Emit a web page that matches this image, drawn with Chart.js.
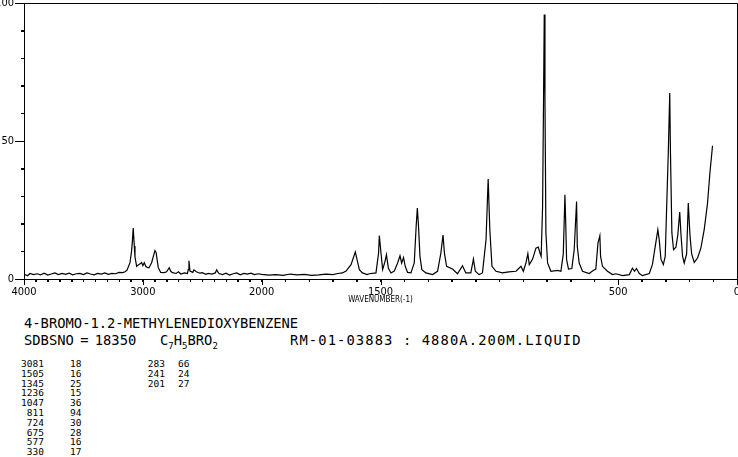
<!DOCTYPE html>
<html>
<head>
<meta charset="utf-8">
<script src="https://cdn.jsdelivr.net/npm/chart.js@4.4.1/dist/chart.umd.min.js"></script>
<style>
    html, body { margin: 0; padding: 0; background: #fff; }
    #page { position: relative; width: 738px; height: 457px; overflow: hidden; font-family: "DejaVu Sans Mono", monospace; color: #000; }
    #spectrum { position: absolute; left: 0; top: 0; }
    .txt { position: absolute; white-space: pre; font-size: 13.8px; line-height: 14px; }
    .tbl { position: absolute; font-size: 9.5px; line-height: 9.8px; white-space: pre; }
    .tbl div { height: 9.8px; }
    .r { text-align: right; }
</style>
</head>
<body>
<div id="page">
    <canvas id="spectrum" width="738" height="310"></canvas>

    <div class="txt" style="left:24px; top:316px;">4-BROMO-1.2-METHYLENEDIOXYBENZENE</div>
    <div class="txt" style="left:24px; top:333px; word-spacing:-2px;">SDBSNO = 18350</div>
    <div class="txt" style="left:160px; top:333px;">C<sub style="font-size:9px">7</sub>H<sub style="font-size:9px">5</sub>BRO<sub style="font-size:9px">2</sub></div>
    <div class="txt" style="left:290px; top:333px; letter-spacing:1.1px;">RM-01-03883 : 4880A.200M.LIQUID</div>

    <div class="tbl r" id="peakWn1" style="left:0px; top:359px; width:44px;"></div>
    <div class="tbl" id="peakInt1" style="left:70px; top:359px;"></div>
    <div class="tbl r" id="peakWn2" style="left:120px; top:359px; width:45px;"></div>
    <div class="tbl" id="peakInt2" style="left:178px; top:359px;"></div>
</div>

<script>
// ===============================
// Data
// ===============================
const wavenumbers = [
    4000, 3970, 3950, 3920, 3890, 3860, 3830, 3800, 3770, 3740, 3710, 3680, 3650, 3620, 3590, 3560,
    3530, 3500, 3470, 3440, 3410, 3380, 3350, 3320, 3290, 3260, 3230, 3200, 3170, 3150,
    3133, 3108, 3095, 3089, 3081, 3072, 3066, 3052, 3035, 3020, 3010, 3000, 2988, 2975, 2960, 2948,
    2926, 2910, 2898, 2888, 2880, 2870, 2850, 2820, 2800, 2778, 2765, 2750, 2720, 2700, 2680, 2650,
    2625, 2618, 2612, 2603, 2580, 2570, 2550, 2520, 2500, 2470, 2450, 2420, 2390, 2379, 2360, 2330,
    2300, 2270, 2240, 2210, 2180, 2150, 2120, 2090, 2060, 2030, 2000,
    1970, 1940, 1910, 1880, 1850, 1820, 1790, 1760, 1730, 1700, 1680, 1660, 1645, 1624, 1606, 1597,
    1589, 1576, 1556, 1547, 1519, 1508, 1505, 1498, 1491, 1481, 1475, 1467, 1456, 1442, 1428, 1418,
    1411, 1403, 1396, 1386, 1372, 1358, 1350, 1345, 1340, 1334, 1326, 1309, 1281, 1260, 1246, 1237,
    1231, 1222, 1197, 1176, 1155, 1141, 1120, 1109, 1101, 1085, 1071, 1056, 1047, 1040, 1031, 1014,
    987, 960, 930, 909, 899, 888, 880, 874, 860, 846, 836, 829, 824, 818, 814, 811,
    808, 804, 797, 783, 755, 741, 731, 724, 721, 717, 709, 695, 685, 675, 672, 664,
    650, 622, 605, 594, 585, 577, 574, 566, 545, 524, 509, 482, 453, 440, 431, 423,
    411, 398, 369, 356, 344, 333, 327, 320, 310, 302, 295, 289, 283, 280, 274, 267,
    257, 249, 241, 236, 229, 222, 212, 205, 198, 191, 180, 166, 152, 138, 124, 114, 103
];
const intensities = [
    1.8, 1.2, 2.0, 1.6, 1.9, 1.5, 2.1, 1.4, 1.8, 2.2, 1.6, 2.0, 1.7, 2.1, 1.5, 1.9,
    2.0, 1.6, 2.2, 1.8, 1.5, 2.0, 1.8, 2.2, 1.7, 2.0, 1.9, 2.4, 2.3, 2.6,
    3.2, 5.9, 10, 13, 18.5, 12, 8, 4.6, 5.2, 5.6, 6.0, 4.8, 5.9, 4.6, 4.1, 4.1,
    5.9, 8.5, 10.3, 9.5, 7, 4.1, 2.4, 2.3, 2.6, 4.1, 2.8, 2.3, 2.0, 2.6, 1.8, 2.2,
    2.0, 3.4, 6.6, 2.9, 2.4, 3.3, 2.6, 2.1, 2.3, 1.7, 2.0, 1.8, 2.2, 3.3, 2.0, 1.6,
    2.1, 1.4, 1.9, 2.2, 1.5, 2.0, 1.8, 2.1, 1.6, 1.9, 1.7,
    1.4, 1.6, 1.3, 1.8, 1.5, 1.7, 1.3, 1.5, 1.8, 1.6, 2.0, 2.2, 2.9, 5.2, 9.8, 6.4,
    3.4, 2.2, 1.6, 1.9, 2.2, 9.5, 15.7, 9.5, 3.4, 6.4, 8.8, 4.0, 2.2, 2.9, 5.8, 8.4,
    5.8, 7.8, 4.6, 2.4, 2.2, 5.8, 19, 25.7, 19, 8.2, 3.4, 2.2, 1.6, 2.8, 9.4, 15.9,
    9.4, 4.6, 3.6, 1.9, 4.8, 2.2, 2.2, 7.2, 2.8, 1.6, 2.2, 14.2, 36.2, 17.9, 4.6, 2.8,
    2.2, 2.6, 2.8, 4.6, 2.8, 5.8, 9.2, 5.2, 7.2, 11.2, 11.6, 9.4, 8.2, 26.3, 65, 95.8,
    65, 16.7, 5.8, 2.8, 3.1, 2.8, 9, 30.5, 21.5, 7, 3.6, 3.8, 10.6, 28.1, 11.8, 5.8,
    2.8, 2.0, 3.1, 3.6, 13, 15.7, 8.2, 4.6, 2.8, 1.6, 1.9, 1.2, 1.6, 3.9, 2.8, 3.8,
    2.0, 1.2, 2.0, 5.2, 11.8, 17.9, 14, 7.2, 5.2, 8.2, 28.7, 46, 67.4, 46, 16.7, 10.6,
    11.5, 16, 24.3, 16.5, 8.2, 5.8, 9, 27.5, 16, 9.2, 6, 7.6, 11.2, 17.9, 27.5, 38.4, 48.3
];

// axis ticks
const xTickLabels = [4000, 3000, 2000, 1500, 500, 0];
const yTickLabels = [0, 50, 100];

// peak table
const peakWn1 = ['3081', '1505', '1345', '1236', '1047', '811', '724', '675', '577', '330'];
const peakInt1 = ['18', '16', '25', '15', '36', '94', '30', '28', '16', '17'];
const peakWn2 = ['283', '241', '201'];
const peakInt2 = ['66', '24', '27'];

// ===============================
// Axis helpers (scale doubles below 2000)
// ===============================
function toPos(wn) {
    return wn >= 2000 ? (4000 - wn) / 2 : 1000 + (2000 - wn);
}
function toWn(pos) {
    return pos <= 1000 ? Math.round(4000 - pos * 2) : Math.round(2000 - (pos - 1000));
}

const tickFont = { family: '"Liberation Sans Narrow", "DejaVu Sans Condensed", sans-serif', size: 11 };

// all tick marks (long ones at labels) + top/right frame
const framePlugin = {
    id: 'frame',
    afterDraw(chart) {
        const { ctx, chartArea: a, scales } = chart;
        ctx.save();
        ctx.strokeStyle = '#000';
        ctx.lineWidth = 1;
        ctx.beginPath();
        ctx.moveTo(a.left, a.top + 0.5);
        ctx.lineTo(a.right + 0.5, a.top + 0.5);
        ctx.lineTo(a.right + 0.5, a.bottom);
        for (let w = 4000; w >= 0; w -= 100) {
            const px = Math.round(scales.x.getPixelForValue(toPos(w))) + 0.5;
            const len = xTickLabels.includes(w) ? 6 : 3;
            ctx.moveTo(px, a.bottom);
            ctx.lineTo(px, a.bottom + len);
        }
        for (let v = 0; v <= 100; v += 10) {
            const py = Math.round(scales.y.getPixelForValue(v)) + 0.5;
            const len = yTickLabels.includes(v) ? 9 : 3;
            ctx.moveTo(a.left - len, py);
            ctx.lineTo(a.left, py);
        }
        ctx.stroke();
        ctx.restore();
    }
};

// ===============================
// Chart
// ===============================
function initSpectrum() {
    const canvas = document.getElementById('spectrum');
    const points = wavenumbers.map((w, i) => ({ x: toPos(w), y: intensities[i] }));

    new Chart(canvas.getContext('2d'), {
        type: 'line',
        data: {
            datasets: [{
                data: points,
                borderColor: '#000',
                borderWidth: 1.2,
                pointRadius: 0,
                tension: 0,
                fill: false
            }]
        },
        options: {
            responsive: false,
            animation: false,
            devicePixelRatio: 1,
            layout: { padding: { top: 3, right: 1, left: 0, bottom: 0 } },
            plugins: { legend: { display: false }, tooltip: { enabled: false } },
            scales: {
                x: {
                    type: 'linear',
                    min: 0,
                    max: 3000,
                    afterFit: s => {
                        s.height = 31;
                        s.paddingLeft = 0;
                        s.paddingRight = 0;
                    },
                    afterBuildTicks: s => {
                        const t = [];
                        for (let w = 4000; w >= 0; w -= 100) t.push({ value: toPos(w) });
                        s.ticks = t;
                    },
                    ticks: {
                        autoSkip: false,
                        maxRotation: 0,
                        padding: 4,
                        color: '#000',
                        font: tickFont,
                        callback: v => xTickLabels.includes(toWn(v)) ? String(toWn(v)) : ''
                    },
                    grid: { drawOnChartArea: false, tickLength: 3, color: '#000' },
                    border: { color: '#000', width: 1 },
                    title: {
                        display: true,
                        text: 'WAVENUMBER(-1)',
                        color: '#000',
                        font: { family: tickFont.family, size: 8 },
                        padding: { top: 0, bottom: 5 }
                    }
                },
                y: {
                    min: 0,
                    max: 100,
                    afterFit: s => {
                        s.width = 24;
                        s.paddingTop = 0;
                        s.paddingBottom = 0;
                    },
                    ticks: {
                        stepSize: 10,
                        padding: 7,
                        color: '#000',
                        font: tickFont,
                        callback: v => yTickLabels.includes(v) ? String(v) : ''
                    },
                    grid: { drawOnChartArea: false, tickLength: 3, color: '#000' },
                    border: { color: '#000', width: 1 }
                }
            }
        },
        plugins: [framePlugin]
    });
}

function fillTable() {
    const put = (id, rows) => {
        document.getElementById(id).innerHTML = rows.map(r => '<div>' + r + '</div>').join('');
    };
    put('peakWn1', peakWn1);
    put('peakInt1', peakInt1);
    put('peakWn2', peakWn2);
    put('peakInt2', peakInt2);
}

document.addEventListener('DOMContentLoaded', () => {
    initSpectrum();
    fillTable();
});
</script>
</body>
</html>
